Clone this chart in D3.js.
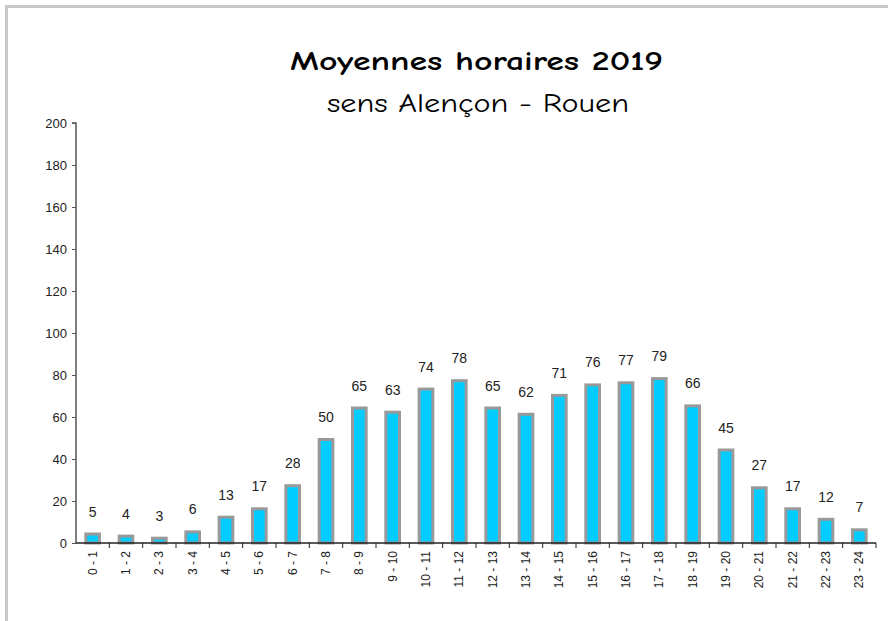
<!DOCTYPE html>
<html><head><meta charset="utf-8">
<script src="https://cdn.jsdelivr.net/npm/d3@7"></script>
<style>html,body{margin:0;padding:0;background:#fff;} svg{display:block;}</style>
</head><body>
<script>
const categories = ["0 - 1","1 - 2","2 - 3","3 - 4","4 - 5","5 - 6","6 - 7","7 - 8","8 - 9","9 - 10","10 - 11","11 - 12","12 - 13","13 - 14","14 - 15","15 - 16","16 - 17","17 - 18","18 - 19","19 - 20","20 - 21","21 - 22","22 - 23","23 - 24"];
const values = [5,4,3,6,13,17,28,50,65,63,74,78,65,62,71,76,77,79,66,45,27,17,12,7];
const yTicks = [0,20,40,60,80,100,120,140,160,180,200];
const titleText = "Moyennes horaires 2019";
const subtitleText = "sens Alençon - Rouen";

(function(){
const W = 888, H = 621;
const svg = d3.select("body").append("svg").attr("width", W).attr("height", H);
svg.append("rect").attr("width", W).attr("height", H).attr("fill", "#fff");
// frame
svg.append("path").attr("d", `M6.5,${H} V6.5 H${W}`).attr("fill","none").attr("stroke","#c8c8c8").attr("stroke-width",3);

const pLeft = 76, pRight = 876, pTop = 123, pBottom = 543;
const x = d3.scaleBand().domain(categories).range([pLeft, pRight]).paddingInner(0.5).paddingOuter(0.25);
const y = d3.scaleLinear().domain([0, 200]).range([pBottom, pTop]);

const comic = "'Comic Sans MS','Comic Neue','DejaVu Sans',sans-serif";
svg.append("text").attr("x", 290).attr("y", 70)
  .attr("textLength", 373).attr("lengthAdjust", "spacingAndGlyphs")
  .style("font-family", comic).style("font-weight","bold").style("font-size","27px").text(titleText);
svg.append("text").attr("x", 327).attr("y", 112)
  .attr("textLength", 302).attr("lengthAdjust", "spacingAndGlyphs")
  .style("font-family", comic).style("font-size","26px").text(subtitleText);

// y axis
const yAxis = d3.axisLeft(y).tickValues(yTicks).tickSize(4).tickPadding(5);
const gy = svg.append("g").attr("transform", `translate(${pLeft},0)`).call(yAxis);
gy.select(".domain").attr("stroke","#555").attr("stroke-width",1.5).attr("d", `M-4,${pTop}H0V${pBottom}`);
gy.selectAll(".tick line").attr("stroke","#555");
gy.selectAll(".tick text").style("font-family","'Liberation Sans',Arial,sans-serif").style("font-size","13px").attr("fill","#222");

// bars
svg.append("g").selectAll("rect").data(values).join("rect")
  .attr("x", (d,i) => x(categories[i]) + 1.5)
  .attr("y", d => y(d) + 1.5)
  .attr("width", x.bandwidth() - 3)
  .attr("height", d => Math.max(0, y(0) - y(d) - 1.5))
  .attr("fill", "#00ccff").attr("stroke", "#999999").attr("stroke-width", 3);

// x axis
const gx = svg.append("g").attr("transform", `translate(0,${pBottom})`);
gx.append("line").attr("x1", pLeft).attr("x2", pRight).attr("stroke","#222").attr("stroke-width",1.5);
const step = x.step();
gx.selectAll("line.tk").data(d3.range(1, categories.length + 1)).join("line").attr("class","tk")
  .attr("x1", i => pLeft + i * step).attr("x2", i => pLeft + i * step)
  .attr("y1", 0).attr("y2", 5).attr("stroke","#222");
gx.selectAll("text").data(categories).join("text")
  .attr("transform", d => `translate(${x(d) + x.bandwidth()/2 + 4},8) rotate(-90)`)
  .attr("text-anchor","end")
  .style("font-family","'Liberation Sans',Arial,sans-serif").style("font-size","12px").attr("fill","#222")
  .text(d => d);

// value labels
svg.append("g").selectAll("text").data(values).join("text")
  .attr("x", (d,i) => x(categories[i]) + x.bandwidth()/2)
  .attr("y", d => y(d) - 16)
  .attr("text-anchor","middle")
  .style("font-family","'Liberation Sans',Arial,sans-serif").style("font-size","14px").attr("fill","#222")
  .text(d => d);
})();
</script>
</body></html>
